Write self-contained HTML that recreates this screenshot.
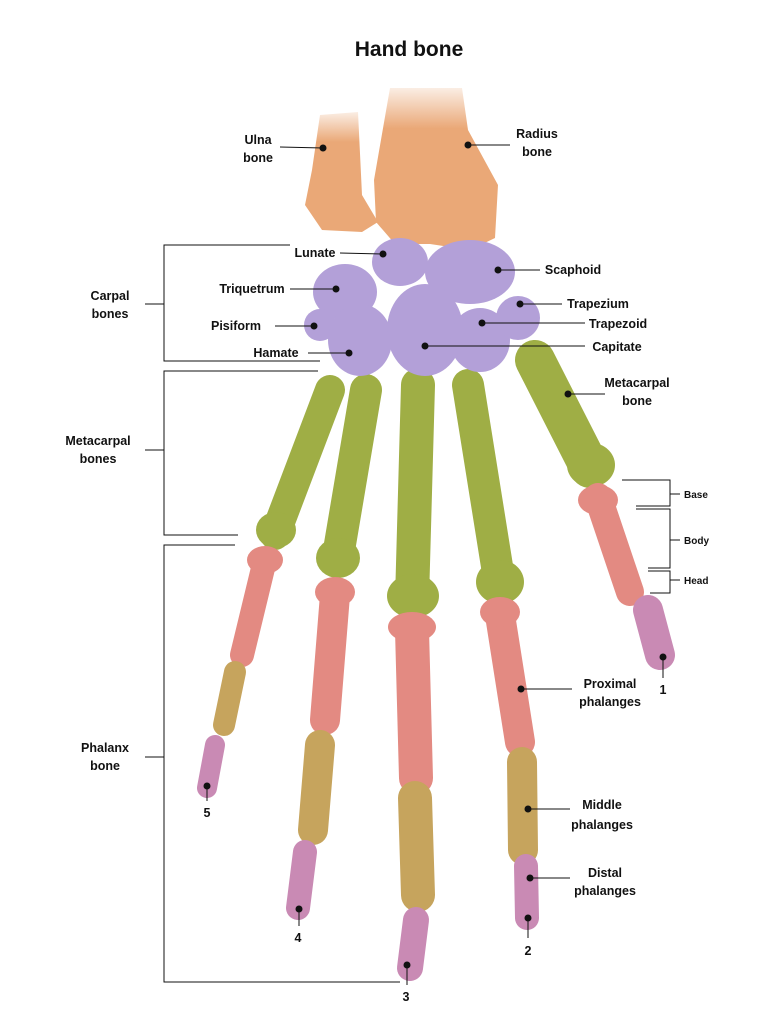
<!DOCTYPE html>
<html><head><style>
html,body{margin:0;padding:0;background:#fff}
svg{display:block}
text{font-family:"Liberation Sans",sans-serif;font-weight:bold;font-size:12.5px;fill:#111}
</style></head><body>
<svg width="763" height="1024" viewBox="0 0 763 1024">
<defs>
<linearGradient id="fade" x1="0" y1="0" x2="0" y2="1">
<stop offset="0" stop-color="#eaa877" stop-opacity="0.2"/>
<stop offset="0.25" stop-color="#eaa877" stop-opacity="1"/>
</linearGradient>
</defs>
<text x="409" y="56" text-anchor="middle" style="font-size:21px">Hand  bone</text>
<g stroke-linecap="round" fill="none">
<!-- forearm -->
<path d="M320 115 L358 112 L362 195 L378 222 L362 232 L322 230 L305 205 L312 170 Z" fill="url(#fade)" stroke="none"/>
<path d="M390 88 L462 88 L468 130 L498 185 L495 238 L470 250 L430 244 L395 244 L376 222 L374 180 Z" fill="url(#fade)" stroke="none"/>
<!-- metacarpals -->
<line x1="330" y1="390" x2="275" y2="535" stroke="#9fae45" stroke-width="30"/>
<line x1="366" y1="390" x2="337" y2="562" stroke="#9fae45" stroke-width="32"/>
<line x1="418" y1="385" x2="412" y2="600" stroke="#9fae45" stroke-width="34"/>
<line x1="468" y1="385" x2="500" y2="585" stroke="#9fae45" stroke-width="32"/>
<line x1="535" y1="360" x2="590" y2="468" stroke="#9fae45" stroke-width="40"/>
<g fill="#9fae45" stroke="none">
<ellipse cx="276" cy="530" rx="20" ry="18"/><ellipse cx="338" cy="558" rx="22" ry="20"/>
<ellipse cx="413" cy="596" rx="26" ry="22"/><ellipse cx="500" cy="582" rx="24" ry="22"/>
<ellipse cx="591" cy="465" rx="24" ry="22"/>
</g>
<!-- carpals -->
<g fill="#b3a0d8" stroke="none">
<ellipse cx="400" cy="262" rx="28" ry="24"/>
<ellipse cx="470" cy="272" rx="45" ry="32"/>
<ellipse cx="345" cy="292" rx="32" ry="28"/>
<ellipse cx="320" cy="325" rx="16" ry="16"/>
<ellipse cx="360" cy="340" rx="32" ry="36"/>
<ellipse cx="425" cy="330" rx="38" ry="46"/>
<ellipse cx="480" cy="340" rx="30" ry="32"/>
<ellipse cx="518" cy="318" rx="22" ry="22"/>
</g>
<!-- proximal -->
<line x1="265" y1="560" x2="242" y2="655" stroke="#e38a82" stroke-width="24"/>
<line x1="335" y1="595" x2="325" y2="720" stroke="#e38a82" stroke-width="30"/>
<line x1="412" y1="630" x2="416" y2="778" stroke="#e38a82" stroke-width="34"/>
<line x1="500" y1="615" x2="520" y2="742" stroke="#e38a82" stroke-width="30"/>
<line x1="598" y1="497" x2="630" y2="592" stroke="#e38a82" stroke-width="28"/>
<g fill="#e38a82" stroke="none">
<ellipse cx="265" cy="560" rx="18" ry="14"/><ellipse cx="335" cy="592" rx="20" ry="15"/>
<ellipse cx="412" cy="627" rx="24" ry="15"/><ellipse cx="500" cy="612" rx="20" ry="15"/>
<ellipse cx="598" cy="500" rx="20" ry="15"/>
</g>
<!-- middle -->
<line x1="235" y1="672" x2="224" y2="725" stroke="#c6a45d" stroke-width="22"/>
<line x1="320" y1="745" x2="313" y2="830" stroke="#c6a45d" stroke-width="30"/>
<line x1="415" y1="798" x2="418" y2="895" stroke="#c6a45d" stroke-width="34"/>
<line x1="522" y1="762" x2="523" y2="850" stroke="#c6a45d" stroke-width="30"/>
<!-- distal -->
<line x1="215" y1="745" x2="207" y2="788" stroke="#c98ab4" stroke-width="20"/>
<line x1="305" y1="852" x2="298" y2="908" stroke="#c98ab4" stroke-width="24"/>
<line x1="416" y1="920" x2="410" y2="968" stroke="#c98ab4" stroke-width="26"/>
<line x1="526" y1="866" x2="527" y2="918" stroke="#c98ab4" stroke-width="24"/>
<line x1="648" y1="610" x2="660" y2="655" stroke="#c98ab4" stroke-width="30"/>
</g>
<!-- leaders -->
<g stroke="#111" stroke-width="1" fill="none">
<line x1="280" y1="147" x2="323" y2="148"/>
<line x1="468" y1="145" x2="510" y2="145"/>
<line x1="340" y1="253" x2="383" y2="254"/>
<line x1="498" y1="270" x2="540" y2="270"/>
<line x1="290" y1="289" x2="336" y2="289"/>
<line x1="520" y1="304" x2="562" y2="304"/>
<line x1="482" y1="323" x2="585" y2="323"/>
<line x1="275" y1="326" x2="314" y2="326"/>
<line x1="308" y1="353" x2="349" y2="353"/>
<line x1="425" y1="346" x2="585" y2="346"/>
<line x1="568" y1="394" x2="605" y2="394"/>
<line x1="521" y1="689" x2="572" y2="689"/>
<line x1="528" y1="809" x2="570" y2="809"/>
<line x1="530" y1="878" x2="570" y2="878"/>
<line x1="663" y1="657" x2="663" y2="678"/>
<line x1="528" y1="918" x2="528" y2="938"/>
<line x1="407" y1="965" x2="407" y2="985"/>
<line x1="299" y1="909" x2="299" y2="926"/>
<line x1="207" y1="786" x2="207" y2="801"/>
<polyline points="290,245 164,245 164,361 320,361"/>
<line x1="145" y1="304" x2="164" y2="304"/>
<polyline points="318,371 164,371 164,535 238,535"/>
<line x1="145" y1="450" x2="164" y2="450"/>
<polyline points="235,545 164,545 164,982 400,982"/>
<line x1="145" y1="757" x2="164" y2="757"/>
<polyline points="622,480 670,480 670,506 636,506"/>
<line x1="670" y1="494" x2="680" y2="494"/>
<polyline points="636,509 670,509 670,568 648,568"/>
<line x1="670" y1="540" x2="680" y2="540"/>
<polyline points="648,571 670,571 670,593 650,593"/>
<line x1="670" y1="580" x2="680" y2="580"/>
</g>
<g fill="#111">
<circle cx="323" cy="148" r="3.5"/><circle cx="468" cy="145" r="3.5"/>
<circle cx="383" cy="254" r="3.5"/><circle cx="498" cy="270" r="3.5"/>
<circle cx="336" cy="289" r="3.5"/><circle cx="520" cy="304" r="3.5"/>
<circle cx="482" cy="323" r="3.5"/><circle cx="314" cy="326" r="3.5"/>
<circle cx="349" cy="353" r="3.5"/><circle cx="425" cy="346" r="3.5"/>
<circle cx="568" cy="394" r="3.5"/><circle cx="521" cy="689" r="3.5"/>
<circle cx="528" cy="809" r="3.5"/><circle cx="530" cy="878" r="3.5"/>
<circle cx="663" cy="657" r="3.5"/><circle cx="528" cy="918" r="3.5"/>
<circle cx="407" cy="965" r="3.5"/><circle cx="299" cy="909" r="3.5"/>
<circle cx="207" cy="786" r="3.5"/>
</g>
<g text-anchor="middle">
<text x="258" y="144">Ulna</text><text x="258" y="162">bone</text>
<text x="537" y="138">Radius</text><text x="537" y="156">bone</text>
<text x="315" y="257">Lunate</text>
<text x="573" y="274">Scaphoid</text>
<text x="252" y="293">Triquetrum</text>
<text x="598" y="308">Trapezium</text>
<text x="618" y="328">Trapezoid</text>
<text x="236" y="330">Pisiform</text>
<text x="276" y="357">Hamate</text>
<text x="617" y="351">Capitate</text>
<text x="637" y="387">Metacarpal</text><text x="637" y="405">bone</text>
<text x="610" y="688">Proximal</text><text x="610" y="706">phalanges</text>
<text x="602" y="809">Middle</text><text x="602" y="829">phalanges</text>
<text x="605" y="877">Distal</text><text x="605" y="895">phalanges</text>
<text x="110" y="300">Carpal</text><text x="110" y="318">bones</text>
<text x="98" y="445">Metacarpal</text><text x="98" y="463">bones</text>
<text x="105" y="752">Phalanx</text><text x="105" y="770">bone</text>
<text x="663" y="694">1</text><text x="528" y="955">2</text>
<text x="406" y="1001">3</text><text x="298" y="942">4</text><text x="207" y="817">5</text>
</g>
<text x="684" y="498" style="font-size:10px">Base</text>
<text x="684" y="544" style="font-size:10px">Body</text>
<text x="684" y="584" style="font-size:10px">Head</text>
</svg>
</body></html>
